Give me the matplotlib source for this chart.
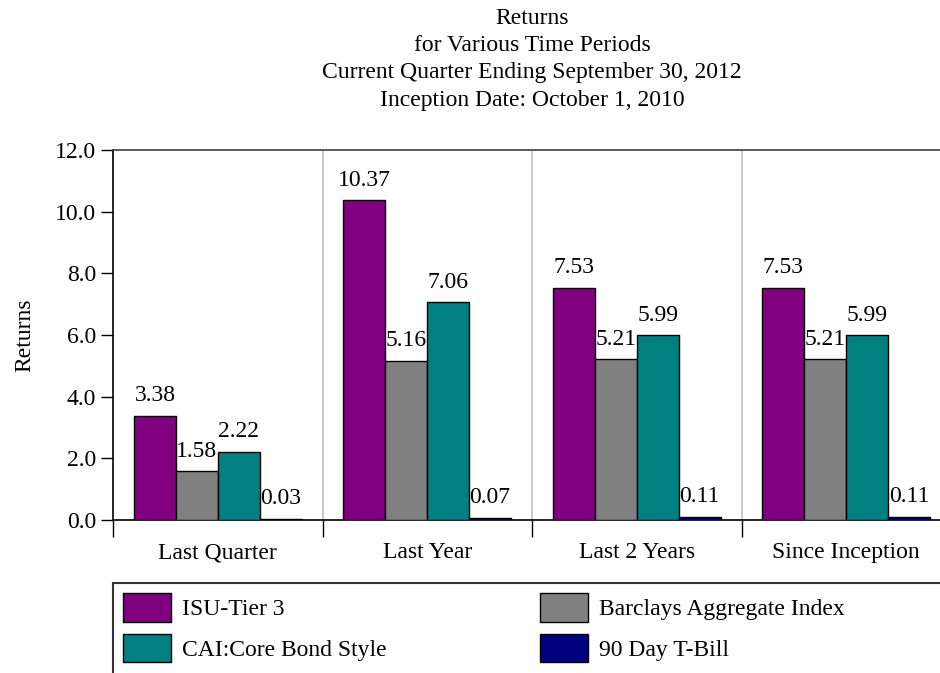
import matplotlib
matplotlib.use("Agg")
import matplotlib.pyplot as plt
import numpy as np
from matplotlib.patches import Rectangle, Patch

categories = ["Last Quarter", "Last Year", "Last 2 Years", "Since Inception"]
series_names = ["ISU-Tier 3", "Barclays Aggregate Index", "CAI:Core Bond Style", "90 Day T-Bill"]
isu = [3.38, 10.37, 7.53, 7.53]
barclays = [1.58, 5.16, 5.21, 5.21]
cai = [2.22, 7.06, 5.99, 5.99]
tbill = [0.03, 0.07, 0.11, 0.11]
colors = ["#800080", "#808080", "#008080", "#000080"]
title_lines = ["Returns", "for Various Time Periods",
               "Current Quarter Ending September 30, 2012",
               "Inception Date: October 1, 2010"]
yticks = [0, 2, 4, 6, 8, 10, 12]

plt.rcParams['font.family'] = ['Liberation Serif', 'DejaVu Serif']
FS = 17

W, H = 940, 673
fig = plt.figure(figsize=(W / 100, H / 100), dpi=100)
ax = fig.add_axes([113 / W, (H - 520) / H, 838 / W, 370 / H])

series = [isu, barclays, cai, tbill]
x = np.arange(len(categories))
bw = 0.2
for i, (vals, c, name) in enumerate(zip(series, colors, series_names)):
    pos = x - 0.4 + bw * (i + 0.5)
    bars = ax.bar(pos, vals, width=bw, color=c, edgecolor="black", linewidth=1.0,
                  label=name, zorder=3)
    for b, v in zip(bars, vals):
        ax.annotate(f"{v:.2f}", (b.get_x() + b.get_width() / 2, v),
                    xytext=(0, 7), textcoords="offset points",
                    ha="center", va="bottom", fontsize=FS, zorder=4)

ax.set_xlim(-0.5, len(categories) - 0.5)
ax.set_ylim(0, 12)

# separators
for b in np.arange(0.5, len(categories) - 0.5, 1.0):
    ax.axvline(b, color="#c0c0c0", linewidth=1.2, zorder=1)

ax.set_yticks(yticks)
ax.set_yticklabels([f"{t:.1f}" for t in yticks], fontsize=FS)
ax.tick_params(axis="y", direction="out", length=9, width=1, pad=3)

ax.set_xticks(x)
ax.set_xticklabels(categories, fontsize=FS)
ax.tick_params(axis="x", which="major", length=0, pad=16)
ax.set_xticks(np.arange(-0.5, len(categories), 1.0), minor=True)
ax.tick_params(axis="x", which="minor", direction="out", length=12, width=1)

for s in ["left", "bottom", "top", "right"]:
    ax.spines[s].set_color("black")
    ax.spines[s].set_linewidth(1.2)
ax.spines["top"].set_color("#404040")

ax.set_ylabel("Returns", fontsize=FS, labelpad=14)
ax.set_title("\n".join(title_lines), fontsize=FS, linespacing=1.38, pad=32)

# legend
handles = [Patch(facecolor=c, edgecolor="black", linewidth=1.0) for c in colors]
order = [0, 2, 1, 3]
leg = fig.legend([handles[i] for i in order], [series_names[i] for i in order],
                 ncol=2, loc="upper left", bbox_to_anchor=(123 / W, 1 - 593 / H),
                 frameon=False, fontsize=FS, handlelength=2.03, handleheight=1.5,
                 handletextpad=0.47, labelspacing=0.5, columnspacing=6.5,
                 borderaxespad=0, borderpad=0)
fig.add_artist(Rectangle((113 / W, -0.05), (W + 20) / W, (H - 583) / H + 0.05,
                         transform=fig.transFigure, fill=False, edgecolor="#333333",
                         linewidth=1.5, clip_on=False))

fig.savefig("out.png", dpi=100)
